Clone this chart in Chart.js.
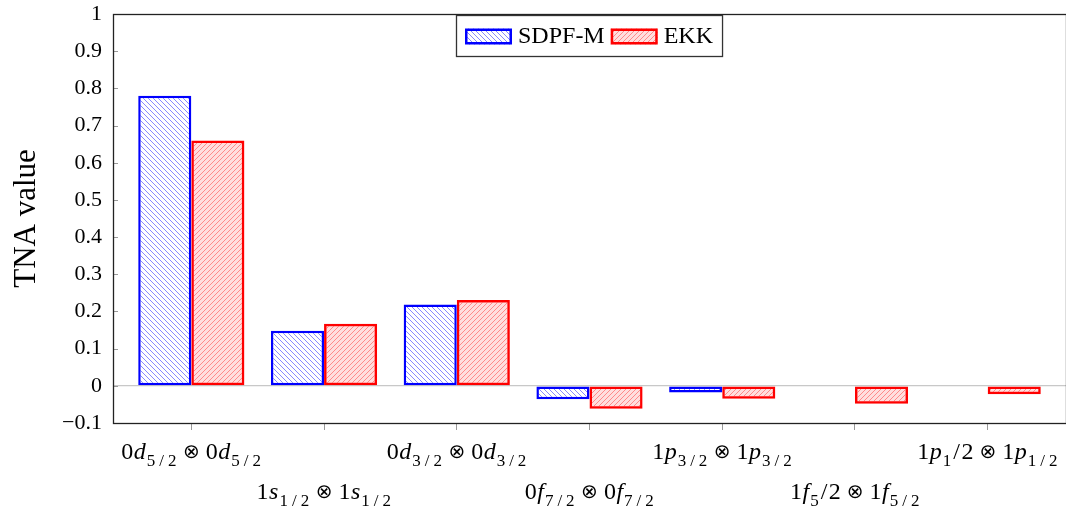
<!DOCTYPE html>
<html>
<head>
<meta charset="utf-8">
<script src="https://cdn.jsdelivr.net/npm/chart.js@4"></script>
<style>
  body { margin: 0; background: #fff; }
  canvas { display: block; }
</style>
</head>
<body>
<canvas id="tnaChart" width="1066" height="514"></canvas>
<script>
// カテゴリ (_{} は下付き)
const categories = [
  "0d_{5/2} ⊗ 0d_{5/2}",
  "1s_{1/2} ⊗ 1s_{1/2}",
  "0d_{3/2} ⊗ 0d_{3/2}",
  "0f_{7/2} ⊗ 0f_{7/2}",
  "1p_{3/2} ⊗ 1p_{3/2}",
  "1f_{5}/2 ⊗ 1f_{5/2}",
  "1p_{1}/2 ⊗ 1p_{1/2}"
];
const sdpfM = [0.78, 0.148, 0.219, -0.036, -0.018, null, null];
const ekk = [0.66, 0.167, 0.231, -0.062, -0.035, -0.048, -0.023];
const yTicks = [-0.1, 0, 0.1, 0.2, 0.3, 0.4, 0.5, 0.6, 0.7, 0.8, 0.9, 1];

const SERIF = "'Liberation Serif', 'DejaVu Serif', serif";

// 斜線パターン
function hatch(bg, line, dir) {
  const s = 5;
  const c = document.createElement("canvas");
  c.width = s; c.height = s;
  const g = c.getContext("2d");
  if (bg) { g.fillStyle = bg; g.fillRect(0, 0, s, s); }
  g.strokeStyle = line;
  g.lineWidth = 1;
  g.beginPath();
  if (dir === "\\") {
    g.moveTo(0, 0); g.lineTo(s, s);
    g.moveTo(-1, s - 1); g.lineTo(1, s + 1);
    g.moveTo(s - 1, -1); g.lineTo(s + 1, 1);
  } else {
    g.moveTo(0, s); g.lineTo(s, 0);
    g.moveTo(-1, 1); g.lineTo(1, -1);
    g.moveTo(s - 1, s + 1); g.lineTo(s + 1, s - 1);
  }
  g.stroke();
  return g.createPattern(c, "repeat");
}

const bluePattern = hatch("#ffffff", "rgba(40,40,255,0.55)", "\\");
const redPattern = hatch("rgba(255,0,0,0.13)", "rgba(255,0,0,0.38)", "/");

// ラベル文字列を分解
function parseLabel(str) {
  const segs = [];
  let i = 0;
  while (i < str.length) {
    const ch = str[i];
    if (ch === "_" && str[i + 1] === "{") {
      const end = str.indexOf("}", i);
      for (const c of str.slice(i + 2, end)) {
        segs.push({ text: c, sub: true, pad: c === "/" ? 3.5 : 0.5 });
      }
      i = end + 1;
    } else if (/[a-z]/.test(ch)) {
      segs.push({ text: ch, italic: true, pad: 0.5 });
      i++;
    } else if (ch === " ") {
      segs.push({ text: "", pad: 3 });
      i++;
    } else if (ch === "⊗") {
      segs.push({ text: ch, op: true, pad: 0 });
      i++;
    } else {
      segs.push({ text: ch, pad: ch === "/" ? 1.5 : 0 });
      i++;
    }
  }
  return segs;
}

function segFont(seg) {
  if (seg.sub) return "17px " + SERIF;
  if (seg.italic) return "italic 24px " + SERIF;
  if (seg.op) return "20px 'DejaVu Sans', sans-serif";
  return "24px " + SERIF;
}

function drawRich(ctx, str, cx, baseline) {
  const segs = parseLabel(str);
  let total = 0;
  segs.forEach(seg => {
    ctx.font = segFont(seg);
    seg.w = ctx.measureText(seg.text).width + seg.pad * 2;
    total += seg.w;
  });
  let x = cx - total / 2;
  ctx.textAlign = "left";
  ctx.textBaseline = "alphabetic";
  ctx.fillStyle = "#000";
  segs.forEach(seg => {
    ctx.font = segFont(seg);
    const dy = seg.sub ? 7 : (seg.op ? -1 : 0);
    ctx.fillText(seg.text, x + seg.pad, baseline + dy);
    x += seg.w;
  });
}

const richLabels = {
  id: "richLabels",
  afterDraw(chart) {
    const ctx = chart.ctx;
    const x = chart.scales.x;
    ctx.save();
    categories.forEach((lab, i) => {
      const px = x.getPixelForValue(i);
      drawRich(ctx, lab, px, i % 2 === 0 ? 459 : 499);
    });
    ctx.restore();
  }
};

// 枠線と内側の目盛り
const frame = {
  id: "frame",
  afterDatasetsDraw(chart) {
    const { ctx, chartArea: a } = chart;
    const y = chart.scales.y;
    ctx.save();
    ctx.strokeStyle = "#999";
    ctx.lineWidth = 1;
    yTicks.forEach(v => {
      const py = Math.round(y.getPixelForValue(v)) + 0.5;
      ctx.beginPath();
      ctx.moveTo(a.left, py);
      ctx.lineTo(a.left + 5, py);
      ctx.stroke();
    });
    ctx.strokeStyle = "#222";
    ctx.lineWidth = 1.3;
    ctx.strokeRect(a.left + 0.5, a.top + 0.5, a.right - a.left, a.bottom - a.top);
    ctx.restore();
  }
};

// 凡例 (グラフ内上部)
const boxLegend = {
  id: "boxLegend",
  afterDraw(chart) {
    const { ctx, chartArea: a } = chart;
    const items = chart.data.datasets;
    const pad = 9, sw = 47, sh = 16, gap = 6, between = 6;
    ctx.save();
    ctx.font = "24px " + SERIF;
    let w = pad * 2;
    items.forEach((d, i) => {
      w += sw + gap + ctx.measureText(d.label).width;
      if (i < items.length - 1) w += between;
    });
    const top = a.top + 1, h = 41;
    const left = Math.round((a.left + a.right) / 2 - w / 2);
    ctx.fillStyle = "#fff";
    ctx.fillRect(left, top, w, h);
    ctx.strokeStyle = "#333";
    ctx.lineWidth = 1.3;
    ctx.strokeRect(left + 0.5, top + 0.5, w, h);
    let x = left + pad;
    const cy = top + h / 2 + 1;
    items.forEach(d => {
      ctx.fillStyle = d.backgroundColor;
      ctx.fillRect(x, cy - sh / 2, sw, sh);
      ctx.strokeStyle = d.borderColor;
      ctx.lineWidth = 2.5;
      ctx.strokeRect(x + 1.25, cy - sh / 2 + 1.25, sw - 2.5, sh - 2.5);
      x += sw + gap;
      ctx.fillStyle = "#000";
      ctx.textAlign = "left";
      ctx.textBaseline = "middle";
      ctx.fillText(d.label, x, cy);
      x += ctx.measureText(d.label).width + between;
    });
    ctx.restore();
  }
};

const ctx = document.getElementById("tnaChart").getContext("2d");
new Chart(ctx, {
  type: "bar",
  data: {
    datasets: [
      {
        label: "SDPF-M",
        data: sdpfM.map((v, i) => ({ x: i, y: v })),
        backgroundColor: bluePattern,
        borderColor: "#0000ff",
        borderWidth: 2.5,
        borderSkipped: false
      },
      {
        label: "EKK",
        data: ekk.map((v, i) => ({ x: i, y: v })),
        backgroundColor: redPattern,
        borderColor: "#ff0000",
        borderWidth: 2.5,
        borderSkipped: false
      }
    ]
  },
  options: {
    responsive: false,
    animation: false,
    barPercentage: 1.0,
    categoryPercentage: 0.8,
    layout: { padding: { top: 14, right: 0, bottom: 0, left: 0 } },
    plugins: {
      legend: { display: false },
      tooltip: { enabled: false }
    },
    scales: {
      x: {
        type: "linear",
        offset: false,
        min: -0.59,
        max: 6.59,
        afterBuildTicks: scale => {
          scale.ticks = categories.map((c, i) => ({ value: i }));
        },
        afterFit: scale => {
          scale.height = 91;
          scale.paddingLeft = 0;
          scale.paddingRight = 0;
        },
        ticks: { display: false },
        grid: {
          offset: false,
          drawOnChartArea: false,
          drawTicks: true,
          tickLength: 7,
          color: "#999"
        },
        border: { display: false }
      },
      y: {
        min: -0.1,
        max: 1,
        afterBuildTicks: scale => {
          scale.ticks = yTicks.map(v => ({ value: v }));
        },
        afterFit: scale => {
          scale.width = 113;
          scale.paddingTop = 0;
          scale.paddingBottom = 0;
        },
        ticks: {
          padding: 11,
          color: "#000",
          font: { family: SERIF, size: 22 },
          callback: v => {
            const r = Math.round(v * 10) / 10;
            return r < 0 ? "\u2212" + Math.abs(r) : String(r);
          }
        },
        grid: {
          drawTicks: false,
          color: c => (c.tick && Math.abs(c.tick.value) < 1e-9 ? "#c8c8c8" : "rgba(0,0,0,0)"),
          lineWidth: 1.2
        },
        border: { display: false },
        title: {
          display: true,
          text: "TNA value",
          color: "#000",
          font: { family: SERIF, size: 31 },
          padding: { top: 8, bottom: 0 }
        }
      }
    }
  },
  plugins: [frame, richLabels, boxLegend]
});
</script>
</body>
</html>
